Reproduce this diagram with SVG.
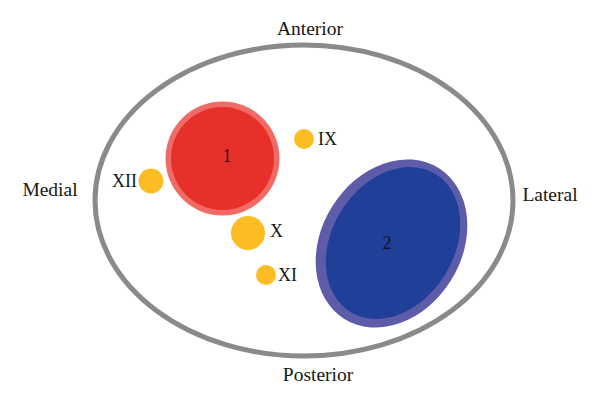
<svg xmlns="http://www.w3.org/2000/svg" width="600" height="403" viewBox="0 0 600 403">
<style>
text{font-family:"Liberation Serif","DejaVu Serif",serif;fill:#161616}
.dir{font-size:19.5px}
.lbl{font-size:18px}
.nerve{fill:#fcbd22}
</style>
<rect width="600" height="403" fill="#ffffff"/>
<g id="outline">
<ellipse cx="304" cy="200.5" rx="209" ry="155.5" fill="none" stroke="#8a8a8a" stroke-width="5"/>
</g>
<g id="labels-dir">
<text class="dir" x="310" y="35" text-anchor="middle">Anterior</text>
<text class="dir" x="318" y="381" text-anchor="middle">Posterior</text>
<text class="dir" x="50" y="196" text-anchor="middle">Medial</text>
<text class="dir" x="550" y="201" text-anchor="middle">Lateral</text>
</g>
<g id="node1">
<circle cx="222.5" cy="158.5" r="57" fill="#f06a66"/>
<circle cx="222.5" cy="158.5" r="51.5" fill="#e8302a"/>
<text class="lbl" x="227" y="162" text-anchor="middle">1</text>
</g>
<g id="node2">
<ellipse cx="391.5" cy="243.5" rx="70" ry="89" transform="rotate(32 391.5 243.5)" fill="#5e5ba9"/>
<ellipse cx="393" cy="243" rx="61" ry="81" transform="rotate(32 393 243)" fill="#1f3f99"/>
<text class="lbl" x="387" y="249" text-anchor="middle">2</text>
</g>
<g id="nodeIX">
<circle class="nerve" cx="304" cy="139" r="10"/>
<text class="lbl" x="318" y="145">IX</text>
</g>
<g id="nodeXII">
<circle class="nerve" cx="151" cy="181" r="12.5"/>
<text class="lbl" x="112" y="187">XII</text>
</g>
<g id="nodeX">
<circle class="nerve" cx="248" cy="233" r="17"/>
<text class="lbl" x="270" y="237">X</text>
</g>
<g id="nodeXI">
<circle class="nerve" cx="266" cy="275" r="10"/>
<text class="lbl" x="278" y="281">XI</text>
</g>
<g id="connectors"></g>
</svg>
